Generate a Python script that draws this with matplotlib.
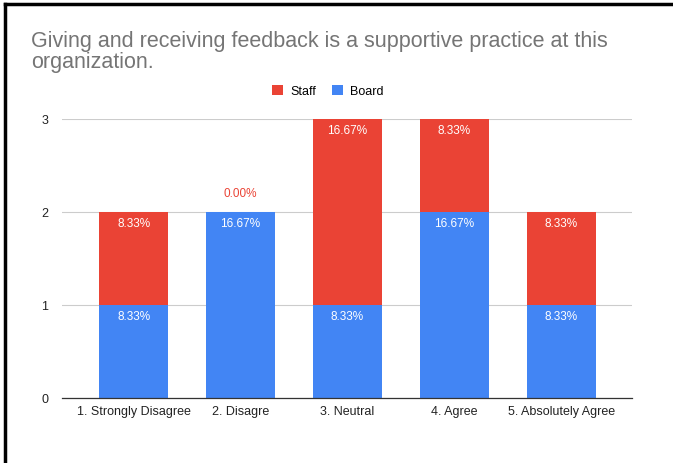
import matplotlib
matplotlib.use("Agg")
import matplotlib.pyplot as plt
from matplotlib.patches import Patch
from matplotlib.lines import Line2D

plt.rcParams['font.family'] = ['Liberation Sans', 'DejaVu Sans']

categories = ["1. Strongly Disagree", "2. Disagre", "3. Neutral", "4. Agree", "5. Absolutely Agree"]
board = [1, 2, 1, 2, 1]
staff = [1, 0, 2, 1, 1]
total_responses = sum(board) + sum(staff)

staff_color = "#EA4335"
board_color = "#4285F4"

fig = plt.figure(figsize=(6.73, 4.64), dpi=100)
ax = fig.add_axes([62 / 673, 1 - 399 / 464, 570 / 673, 279 / 464])

x = list(range(len(categories)))
ax.bar(x, board, width=0.64, color=board_color, zorder=3)
ax.bar(x, staff, width=0.64, bottom=board, color=staff_color, zorder=3)

def pct(v):
    return f"{v / total_responses * 100:.2f}%"

lbl_size = 8.5
for i in x:
    ax.text(i, board[i] - 0.05, pct(board[i]), ha="center", va="top",
            color="white", fontsize=lbl_size, zorder=4)
    if staff[i] > 0:
        ax.text(i, board[i] + staff[i] - 0.05, pct(staff[i]), ha="center", va="top",
                color="white", fontsize=lbl_size, zorder=4)
    else:
        ax.text(i, board[i] + 0.14, pct(staff[i]), ha="center", va="bottom",
                color=staff_color, fontsize=lbl_size, zorder=4)

ax.set_xlim(-0.67, 4.66)
ax.set_ylim(0, 3)
ax.set_yticks([0, 1, 2, 3])
ax.set_xticks(x)
ax.set_xticklabels(categories)
ax.tick_params(axis="both", length=0, labelsize=9, colors="#222222")
ax.tick_params(axis="y", pad=10)
ax.tick_params(axis="x", pad=5)
ax.grid(axis="y", color="#cccccc", linewidth=0.8, zorder=0)
for s in ["top", "right", "left"]:
    ax.spines[s].set_visible(False)
ax.spines["bottom"].set_color("#333333")
ax.spines["bottom"].set_linewidth(0.9)
ax.spines["bottom"].set_zorder(5)

title_kw = dict(fontsize=15.5, color="#757575", ha="left", va="baseline")
fig.text(31 / 673, 1 - 47 / 464, "Giving and receiving feedback is a supportive practice at this", **title_kw)
fig.text(31 / 673, 1 - 68 / 464, "organization.", **title_kw)

handles = [Patch(facecolor=staff_color, edgecolor="none"),
           Patch(facecolor=board_color, edgecolor="none")]
fig.legend(handles, ["Staff", "Board"], loc="center", bbox_to_anchor=(328 / 673, 1 - 92 / 464),
           ncol=2, frameon=False, fontsize=9, handlelength=0.9, handleheight=0.9,
           handletextpad=0.6, columnspacing=1.2)

# page frame
fig.add_artist(Line2D([5 / 673, 5 / 673], [0, 1 - 5 / 464], color="black", linewidth=2.5,
                      transform=fig.transFigure))
fig.add_artist(Line2D([5 / 673, 1], [1 - 5 / 464, 1 - 5 / 464], color="black", linewidth=2.5,
                      transform=fig.transFigure))

fig.savefig("out.png", dpi=100, facecolor="white")
